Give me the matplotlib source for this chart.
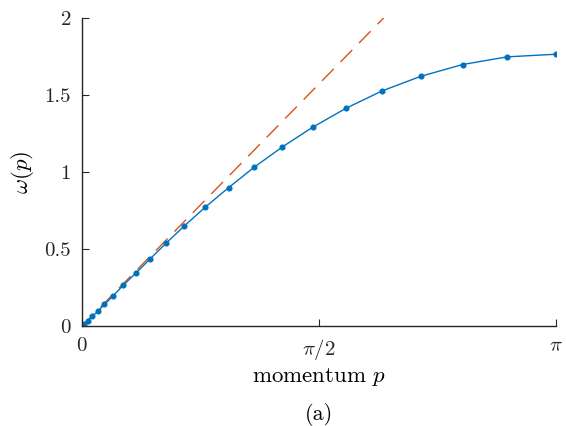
import numpy as np
import matplotlib
matplotlib.use("Agg")
import matplotlib.pyplot as plt

# dispersion points
p = [0.0, 0.015, 0.038, 0.068, 0.104, 0.148, 0.203, 0.274, 0.356, 0.451, 0.557,
     0.678, 0.817, 0.972, 1.142, 1.328, 1.529, 1.752, 1.990, 2.247, 2.523, 2.819, np.pi]
omega = [0.0, 0.013, 0.034, 0.062, 0.094, 0.139, 0.192, 0.265, 0.342, 0.435, 0.537,
         0.649, 0.771, 0.898, 1.031, 1.162, 1.290, 1.414, 1.526, 1.621, 1.697, 1.747, 1.764]

# linear (small-p) approximation
p_lin = [0.0, 2.0]
omega_lin = [0.0, 2.0]

xticks = [0, np.pi / 2, np.pi]
xticklabels = ["$0$", r"$\pi/2$", r"$\pi$"]
yticks = [0, 0.5, 1, 1.5, 2]
yticklabels = ["0", "0.5", "1", "1.5", "2"]

plt.rcParams["font.family"] = "serif"
plt.rcParams["font.serif"] = ["cmr10"]
plt.rcParams["mathtext.fontset"] = "cm"
plt.rcParams["axes.unicode_minus"] = False

fig = plt.figure(figsize=(5.66, 4.26), dpi=100)
ax = fig.add_axes([0.145, 0.235, 0.837, 0.723])

ax.plot(p_lin, omega_lin, color="#D95319", lw=1.0, dashes=(12, 7))
ax.plot(p, omega, color="#0072BD", lw=1.0, marker="o", ms=3.4)

ax.set_xlim(0, np.pi)
ax.set_ylim(0, 2)
ax.set_xticks(xticks)
ax.set_xticklabels(xticklabels)
ax.set_yticks(yticks)
ax.set_yticklabels(yticklabels)

for s in ["top", "right"]:
    ax.spines[s].set_visible(False)
for s in ["left", "bottom"]:
    ax.spines[s].set_color("#262626")
    ax.spines[s].set_linewidth(1.0)
ax.tick_params(direction="in", length=5, width=0.8, colors="#262626",
               labelsize=15, pad=8)

ax.set_xlabel("momentum $p$", fontsize=16.5, labelpad=3)
ax.set_ylabel(r"$\omega(p)$", fontsize=16.5, labelpad=6)
fig.text(0.563, 0.026, "(a)", ha="center", va="center", fontsize=16)

fig.savefig("out.png", dpi=100)
